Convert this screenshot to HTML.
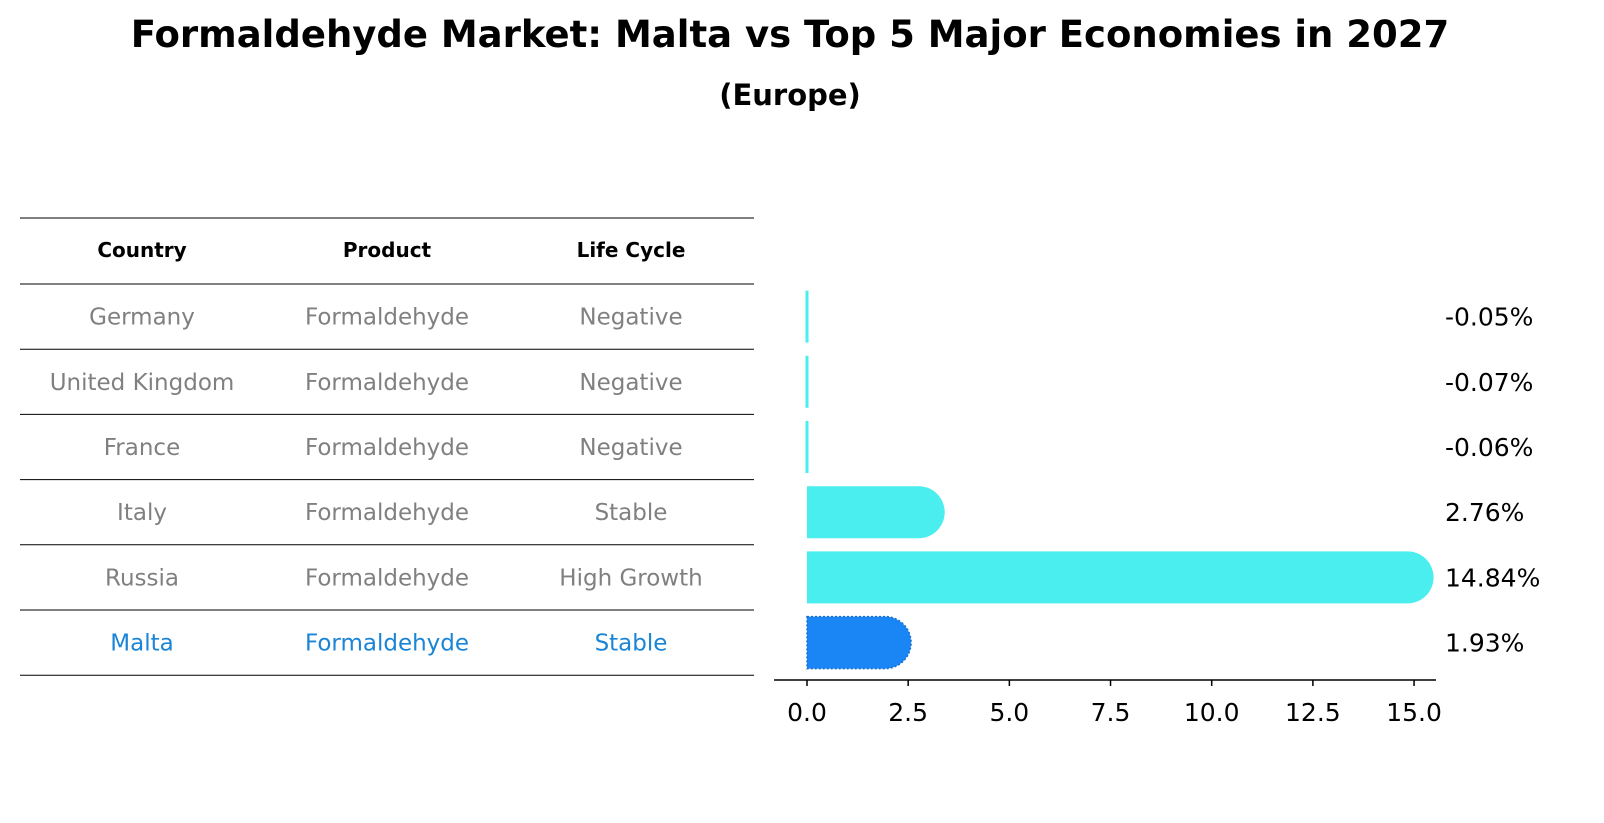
<!DOCTYPE html>
<html><head><meta charset="utf-8"><style>
body{margin:0;background:#fff;font-family:"DejaVu Sans",sans-serif}
#wrap{position:relative;width:1604px;height:823px;overflow:hidden}
.t{position:absolute;white-space:nowrap}
</style></head><body>
<div id="wrap">
<div class="t" style="left:0;width:1580px;text-align:center;top:13px;font-size:37px;font-weight:bold;font-family:'DejaVu Sans',sans-serif">Formaldehyde Market: Malta vs Top 5 Major Economies in 2027</div>
<div class="t" style="left:0;width:1580px;text-align:center;top:78px;font-size:29px;font-weight:bold;font-family:'DejaVu Sans',sans-serif">(Europe)</div>
<svg id="svg" width="1604" height="823" style="position:absolute;left:0;top:0"></svg>
</div>
<script>
const countries=["Germany","United Kingdom","France","Italy","Russia","Malta"];
const products=["Formaldehyde","Formaldehyde","Formaldehyde","Formaldehyde","Formaldehyde","Formaldehyde"];
const lifeCycles=["Negative","Negative","Negative","Stable","High Growth","Stable"];
const values=[-0.05,-0.07,-0.06,2.76,14.84,1.93];
const xTicks=[0,2.5,5,7.5,10,12.5,15];
const NS="http://www.w3.org/2000/svg";
const svg=document.getElementById('svg');
function mk(tag,attrs,txt){const e=document.createElementNS(NS,tag);for(const k in attrs)e.setAttribute(k,attrs[k]);if(txt!==undefined)e.textContent=txt;svg.appendChild(e);return e;}
const x=v=>807+v*40.47;
const rowTop=284,rowH=65.2;
const rowY=i=>rowTop+rowH*(i+0.5);
const F="'DejaVu Sans',sans-serif";
let l=mk('line',{x1:20,x2:754,y1:218,y2:218,stroke:'#000','stroke-width':1});


const cols=[142,387,631];
["Country","Product","Life Cycle"].forEach((h,j)=>{
 const t=mk('text',{x:cols[j],y:257,'text-anchor':'middle','font-size':20,'font-weight':'bold','font-family':F},h);
 
 
});
for(let i=0;i<=countries.length;i++){
 const ln=mk('line',{x1:20,x2:754,y1:rowTop+rowH*i,y2:rowTop+rowH*i,stroke:'#000','stroke-width':1});
 
 
}
countries.forEach((c,i)=>{
 const col=c==="Malta"?'#1a85d6':'#808080';
 [c,products[i],lifeCycles[i]].forEach((s,j)=>{
  const t=mk('text',{x:cols[j],y:rowY(i)+8,'text-anchor':'middle','font-size':23,fill:col,'font-family':F},s);
  
  
 });
});
const bh=52;
values.forEach((v,i)=>{
 const cy=rowY(i);
 const col=countries[i]==="Malta"?'#1a85f5':'#4aeeee';
 let b;
 if(v<0.3){
  b=mk('rect',{x:x(0)-1.5,y:cy-bh/2,width:3,height:bh,fill:col});
 } else {
  const x0=x(0),x1=x(v),r=bh/2;
  b=mk('path',{d:`M${x0},${cy-r} L${x1},${cy-r} A${r},${r} 0 0 1 ${x1},${cy+r} L${x0},${cy+r} Z`,fill:col});
  if(countries[i]==="Malta"){b.setAttribute('stroke','#1a70d0');b.setAttribute('stroke-dasharray','2,2');b.setAttribute('stroke-width','1.5');}
 }
 
 
 const t=mk('text',{x:1445,y:cy+9,'font-size':25,'font-family':F},v.toFixed(2)+'%');
 
 
});
const ax=mk('line',{x1:774,x2:1436,y1:680,y2:680,stroke:'#000','stroke-width':1.5});


xTicks.forEach(v=>{
 const tk=mk('line',{x1:x(v),x2:x(v),y1:680,y2:686,stroke:'#000','stroke-width':1.5});
 
 
 const t=mk('text',{x:x(v),y:721,'text-anchor':'middle','font-size':25,'font-family':F},v.toFixed(1));
 
 
});
</script>
</body></html>
